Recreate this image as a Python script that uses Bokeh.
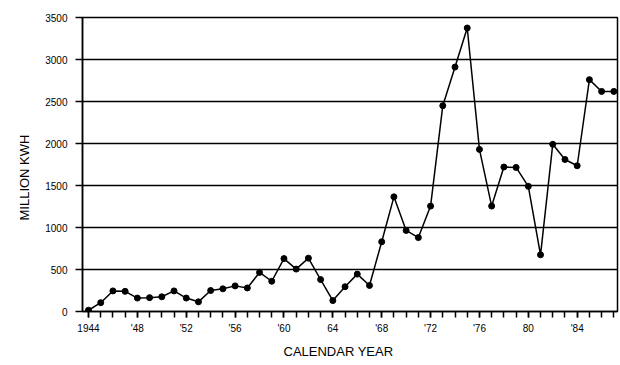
from bokeh.plotting import figure
from bokeh.models import FixedTicker, Range1d, Title
from bokeh.embed import file_html
from bokeh.resources import INLINE

years = list(range(1944, 1988))
million_kwh = [15, 105, 245, 240, 160, 165, 175, 245, 160, 115,
               250, 270, 305, 280, 465, 360, 630, 505, 635, 380,
               130, 295, 445, 310, 830, 1365, 965, 880, 1255, 2450,
               2910, 3375, 1930, 1255, 1720, 1715, 1490, 675, 1990, 1810,
               1735, 2760, 2620, 2620]

y_ticks = [0, 500, 1000, 1500, 2000, 2500, 3000, 3500]
x_major_ticks = [1944, 1948, 1952, 1956, 1960, 1964, 1968, 1972, 1976, 1980, 1984]
x_tick_labels = ["1944", "'48", "'52", "'56", "'60", "64", "'68", "'72", "'76", "80", "'84"]
x_minor_ticks = list(range(1944, 1988))
x_title = "CALENDAR YEAR"
y_title = "MILLION KWH"

FONT = "'Liberation Sans Narrow', 'Liberation Sans', sans-serif"

p = figure(width=620, height=365, output_backend="svg", toolbar_location=None,
           x_range=Range1d(1943.51, 1987.3), y_range=Range1d(0, 3500),
           min_border_left=82, min_border_right=3, min_border_top=17, min_border_bottom=54)

p.background_fill_color = "white"
p.border_fill_color = "white"
p.outline_line_color = "black"
p.outline_line_width = 1.5

p.xgrid.grid_line_color = None
p.ygrid.grid_line_color = "black"
p.ygrid.grid_line_width = 1.5
p.ygrid.ticker = FixedTicker(ticks=y_ticks)

# y axis
p.yaxis.ticker = FixedTicker(ticks=y_ticks)
p.yaxis.axis_line_color = "black"
p.yaxis.axis_line_width = 1.5
p.yaxis.major_tick_out = 7
p.yaxis.major_tick_in = 0
p.yaxis.major_tick_line_width = 1.5
p.yaxis.minor_tick_line_color = None
p.yaxis.major_label_text_font = FONT
p.yaxis.major_label_text_font_size = "10px"
p.yaxis.major_label_text_color = "black"
p.yaxis.major_label_standoff = 8

# x axis
p.xaxis.ticker = FixedTicker(ticks=x_major_ticks, minor_ticks=x_minor_ticks)
p.xaxis.major_label_overrides = {t: s for t, s in zip(x_major_ticks, x_tick_labels)}
p.xaxis.axis_line_color = "black"
p.xaxis.axis_line_width = 1.5
p.xaxis.major_tick_out = 6
p.xaxis.major_tick_in = 0
p.xaxis.minor_tick_out = 6
p.xaxis.minor_tick_in = 0
p.xaxis.major_tick_line_width = 1.5
p.xaxis.minor_tick_line_width = 1.5
p.xaxis.minor_tick_line_color = "black"
p.xaxis.major_label_text_font = FONT
p.xaxis.major_label_text_font_size = "10px"
p.xaxis.major_label_text_color = "black"
p.xaxis.major_label_standoff = 5

# axis titles as side-panel titles, offset along the frame like the reference
p.add_layout(Title(text=x_title, align="left", offset=201, standoff=10,
                   text_font=FONT, text_font_size="13px", text_font_style="normal",
                   text_color="black"), "below")
p.add_layout(Title(text=y_title, align="left", offset=91, standoff=21,
                   text_font=FONT, text_font_size="13px", text_font_style="normal",
                   text_color="black"), "left")

p.line(years, million_kwh, line_color="black", line_width=1.5)
p.scatter(years, million_kwh, size=6, fill_color="black", line_color="black")

open("out.html", "w").write(file_html(p, INLINE))
